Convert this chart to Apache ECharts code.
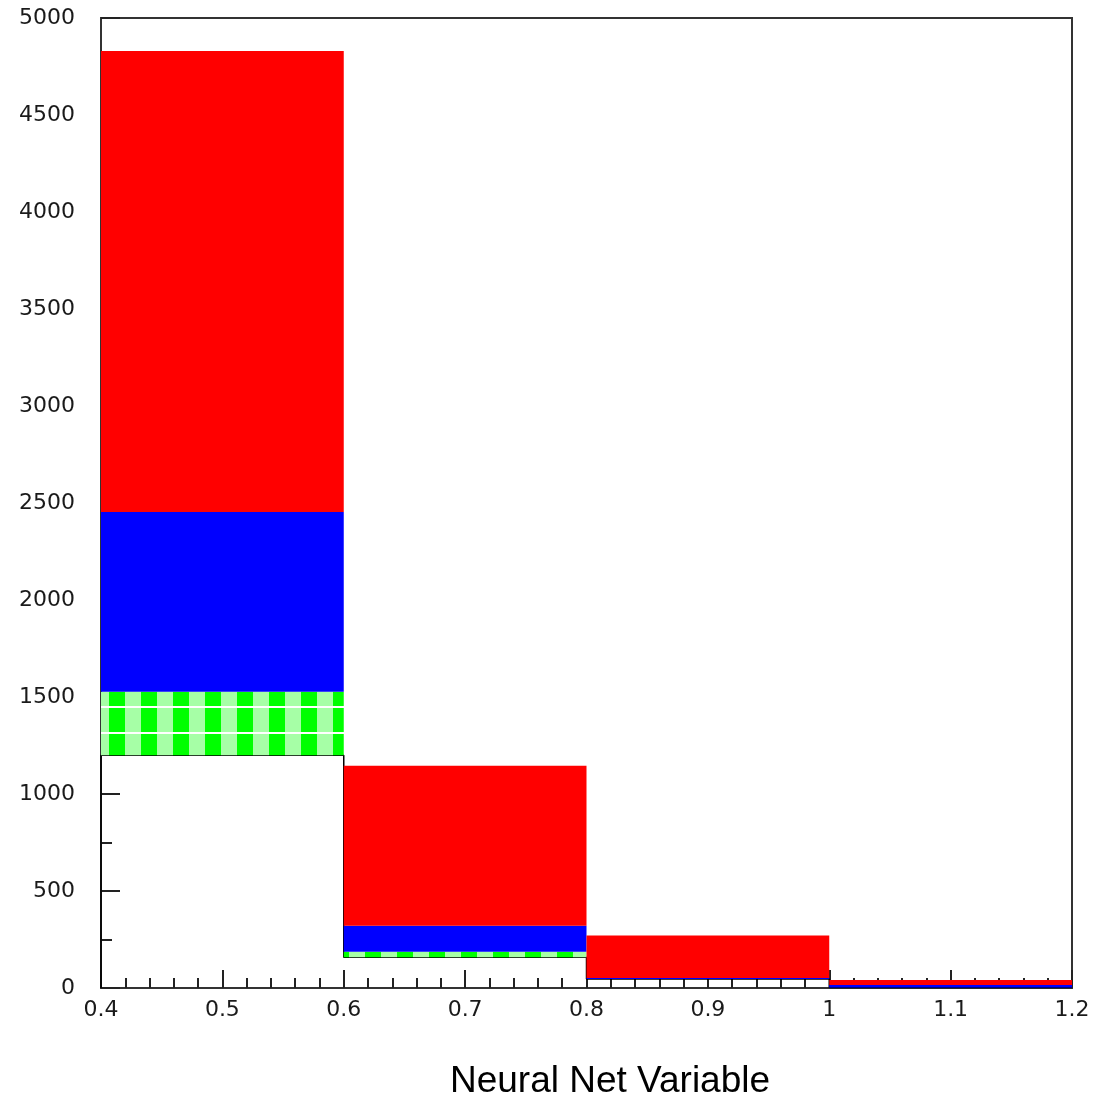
<!DOCTYPE html>
<html>
<head>
<meta charset="utf-8">
<script src="https://cdn.jsdelivr.net/npm/echarts@6/dist/echarts.min.js"></script>
<style>
html,body{margin:0;padding:0;background:#ffffff;}
#chart{width:1108px;height:1097px;}
</style>
</head>
<body>
<div id="chart"></div>
<script>
// Histogram bin edges (Neural Net Variable)
const binEdges = [0.4, 0.6, 0.8, 1.0, 1.2];
// Stacked layers, bottom to top (events per bin)
const whiteVals = [1200, 158, 47, 2];
const greenVals = [327, 29, 0, 0];
const blueVals  = [927, 134, 4, 13];
const redVals   = [2376, 825, 219, 26];
const xTickLabels = ['0.4','0.5','0.6','0.7','0.8','0.9','1','1.1','1.2'];
const yTickLabels = ['0','500','1000','1500','2000','2500','3000','3500','4000','4500','5000'];
const xTitle = 'Neural Net Variable';

// green hatch pattern
function makePattern() {
  const c = document.createElement('canvas');
  c.width = 32; c.height = 26;
  const g = c.getContext('2d');
  g.fillStyle = '#00ff00';
  g.fillRect(0, 0, 32, 26);
  g.fillStyle = '#a6ffa6';
  g.fillRect(0, 0, 13, 26);
  g.fillRect(29, 0, 3, 26);
  g.fillStyle = '#ffffff';
  g.fillRect(0, 4, 32, 2);
  return c;
}

const layers = [whiteVals, greenVals, blueVals, redVals];
const cum = [0, 0, 0, 0];
const layerData = layers.map(vals => vals.map((v, i) => {
  const item = [binEdges[i], binEdges[i + 1], cum[i], cum[i] + v];
  cum[i] += v;
  return item;
}));

function rectRender(fill) {
  return function (params, api) {
    const b = api.value(2), t = api.value(3);
    if (t - b <= 0) return null;
    const p0 = api.coord([api.value(0), t]);
    const p1 = api.coord([api.value(1), b]);
    return {
      type: 'rect',
      shape: { x: p0[0], y: p0[1], width: p1[0] - p0[0], height: p1[1] - p0[1] },
      style: { fill: fill }
    };
  };
}

// outline of the bottom (white) histogram
const outline = [[binEdges[0], 0]];
whiteVals.forEach((v, i) => { outline.push([binEdges[i], v]); outline.push([binEdges[i + 1], v]); });

const chart = echarts.init(document.getElementById('chart'));
const fonts = '"DejaVu Sans", "Liberation Sans", Arial, sans-serif';
chart.setOption({
  animation: false,
  backgroundColor: '#ffffff',
  grid: { left: 101, width: 971, top: 18, height: 970, outerBoundsMode: 'none', containLabel: false,
          show: true, borderColor: '#333', borderWidth: 2, backgroundColor: 'transparent' },
  graphic: [{
    type: 'text', x: 610, y: 1082, silent: true,
    style: { text: xTitle, textAlign: 'center', textVerticalAlign: 'middle',
             font: '37px "Liberation Sans", Arial, sans-serif', fill: '#000' }
  }],
  xAxis: {
    type: 'value', min: 0.4, max: 1.2, interval: 0.1,
    axisLine: { lineStyle: { color: '#333', width: 2 } },
    axisTick: { inside: true, length: 18, lineStyle: { color: '#222', width: 2 } },
    minorTick: { show: true, splitNumber: 5, length: 10, lineStyle: { color: '#222', width: 2 } },
    splitLine: { show: false },
    axisLabel: { fontFamily: fonts, fontSize: 22, color: '#1a1a1a', margin: 11,
      formatter: (v) => xTickLabels[Math.round((v - 0.4) * 10)] }
  },
  yAxis: {
    type: 'value', min: 0, max: 5000, interval: 500,
    axisLine: { show: true, lineStyle: { color: '#333', width: 2 } },
    axisTick: { show: true, inside: true, length: 19, lineStyle: { color: '#222', width: 2 } },
    minorTick: { show: true, splitNumber: 2, length: 11, lineStyle: { color: '#222', width: 2 } },
    splitLine: { show: false },
    axisLabel: { fontFamily: fonts, fontSize: 22, color: '#1a1a1a', margin: 26,
      formatter: (v) => yTickLabels[Math.round(v / 500)] }
  },
  series: [
    { type: 'line', data: outline, showSymbol: false, lineStyle: { color: '#000', width: 1.5 }, z: 2, silent: true },
    { type: 'custom', data: layerData[1], renderItem: rectRender({ image: makePattern(), repeat: 'repeat' }), encode: { x: [0, 1], y: [2, 3] }, z: 3 },
    { type: 'custom', data: layerData[2], renderItem: rectRender('#0000ff'), encode: { x: [0, 1], y: [2, 3] }, z: 3 },
    { type: 'custom', data: layerData[3], renderItem: rectRender('#ff0000'), encode: { x: [0, 1], y: [2, 3] }, z: 3 }
  ]
});
</script>
</body>
</html>
